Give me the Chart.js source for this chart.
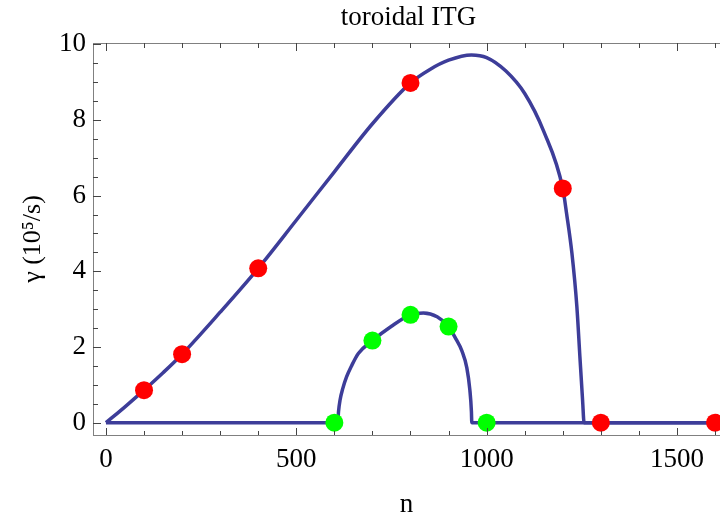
<!DOCTYPE html>
<html>
<head>
<meta charset="utf-8">
<script src="https://cdn.jsdelivr.net/npm/chart.js@4.4.1/dist/chart.umd.min.js"></script>
<style>
  html, body { margin: 0; padding: 0; background: #fff; }
  #wrap { width: 720px; height: 516px; }
</style>
</head>
<body>
<div id="wrap"><canvas id="chart-area"></canvas></div>
<script>
// upper branch (red points) - growth rate vs n
var upperN = [0, 50, 100, 150, 200, 300, 400, 500, 600, 700, 800, 850, 900, 960, 1000, 1050, 1100, 1150, 1200, 1210, 1224, 1237, 1245, 1252, 1256, 1300, 1613];
var upperG = [0, 0.42, 0.86, 1.32, 1.81, 2.92, 4.08, 5.35, 6.63, 7.9, 8.98, 9.33, 9.58, 9.72, 9.65, 9.3, 8.7, 7.7, 6.19, 5.53, 4.48, 3.07, 1.74, 0.6, 0, 0, 0];

// lower branch (green points)
var lowerN = [0, 609, 611, 615, 622, 632, 645, 663, 700, 750, 800, 834, 870, 900, 920, 935, 948, 956, 960, 961, 1000, 1613];
var lowerG = [0, 0, 0.3, 0.6, 0.9, 1.21, 1.5, 1.83, 2.17, 2.55, 2.85, 2.9, 2.8, 2.54, 2.2, 1.9, 1.45, 0.86, 0.3, 0, 0, 0];

// markers
var redN = [100, 200, 400, 800, 1200, 1300, 1600];
var redG = [0.86, 1.81, 4.08, 8.98, 6.19, 0, 0];
var greenN = [600, 700, 800, 900, 1000];
var greenG = [0, 2.17, 2.85, 2.54, 0];

var xTicks = [0, 500, 1000, 1500];
var yTicks = [0, 2, 4, 6, 8, 10];

var lineColor = '#3d3d99';
var serif = "'Liberation Serif', 'Times New Roman', serif";

function pts(xs, ys) {
    return xs.map(function (x, i) { return { x: x, y: ys[i] }; });
}

// title over the plot area, inward ticks + top frame like the original
var frameTicks = {
    id: 'frameTicks',
    afterDraw: function (chart) {
        var ctx = chart.ctx;
        var a = chart.chartArea;
        var xs = chart.scales.x, ys = chart.scales.y;
        var top = Math.round(a.top), bot = Math.round(a.bottom), left = Math.round(a.left);
        ctx.save();
        ctx.fillStyle = '#000';
        ctx.font = '27px ' + serif;
        ctx.textAlign = 'center';
        ctx.textBaseline = 'alphabetic';
        ctx.fillText('toroidal ITG', (a.left + a.right) / 2 + 2, 25);

        ctx.fillStyle = '#808080';
        ctx.fillRect(left, top, a.right - left, 1);

        // minor every 100 in n, major every 500
        ctx.fillStyle = '#444';
        for (var n = 0; n <= 1600; n += 100) {
            var px = Math.round(xs.getPixelForValue(n));
            var len = (n % 500 === 0) ? 7 : 4;
            ctx.fillRect(px, bot - len, 1, len);
            ctx.fillRect(px, top, 1, len + 1);
        }
        for (var g = 0; g <= 10; g += 0.5) {
            var py = Math.round(ys.getPixelForValue(g));
            var l = (g % 2 === 0) ? 7 : 4;
            ctx.fillRect(left, py, l + 1, 1);
        }
        ctx.restore();
    }
};

var config = {
    type: 'scatter',
    data: {
        datasets: [{
                data: pts(redN, redG),
                backgroundColor: '#ff0000',
                borderWidth: 0,
                pointRadius: 9,
                clip: false,
                order: 0
            }, {
                data: pts(greenN, greenG),
                backgroundColor: '#00ff00',
                borderWidth: 0,
                pointRadius: 9,
                clip: false,
                order: 0
            }, {
                data: pts(upperN, upperG),
                showLine: true,
                borderColor: lineColor,
                borderWidth: 3.5,
                pointRadius: 0,
                cubicInterpolationMode: 'monotone',
                order: 1
            }, {
                data: pts(lowerN, lowerG),
                showLine: true,
                borderColor: lineColor,
                borderWidth: 3.5,
                pointRadius: 0,
                cubicInterpolationMode: 'monotone',
                order: 1
            }]
    },
    options: {
        responsive: true,
        maintainAspectRatio: false,
        animation: false,
        layout: { autoPadding: false, padding: { top: 43, right: 0, left: 0, bottom: 0 } },
        plugins: {
            legend: { display: false },
            tooltip: { enabled: false },
            title: { display: false }
        },
        scales: {
            x: {
                type: 'linear',
                min: -34,
                max: 1613,
                afterBuildTicks: function (s) { s.ticks = xTicks.map(function (v) { return { value: v }; }); },
                afterFit: function (s) { s.height = 81; s.paddingLeft = 0; s.paddingRight = 0; },
                grid: { display: false, drawTicks: false },
                border: { display: true, color: '#808080', width: 1 },
                ticks: {
                    color: '#000',
                    padding: 9,
                    maxRotation: 0,
                    font: { family: serif, size: 27 },
                    callback: function (v) { return String(v); }
                },
                title: {
                    display: true,
                    text: 'n',
                    color: '#000',
                    font: { family: serif, size: 27 },
                    padding: { top: 0, bottom: -5 }
                }
            },
            y: {
                type: 'linear',
                min: -0.325,
                max: 10.034,
                afterBuildTicks: function (s) { s.ticks = yTicks.map(function (v) { return { value: v }; }); },
                afterFit: function (s) { s.width = 93; s.paddingTop = 0; s.paddingBottom = 0; },
                grid: { display: false, drawTicks: false },
                border: { display: true, color: '#808080', width: 1 },
                ticks: {
                    color: '#000',
                    padding: 7,
                    font: { family: serif, size: 27 },
                    callback: function (v) { return String(v); }
                },
                title: {
                    display: true,
                    text: 'γ (10⁵/s)',
                    color: '#000',
                    font: { family: serif, size: 26 },
                    padding: { top: 18, bottom: 0 }
                }
            }
        }
    },
    plugins: [frameTicks]
};

window.onload = function () {
    var ctx = document.getElementById('chart-area').getContext('2d');
    window.myChart = new Chart(ctx, config);
};
</script>
</body>
</html>
